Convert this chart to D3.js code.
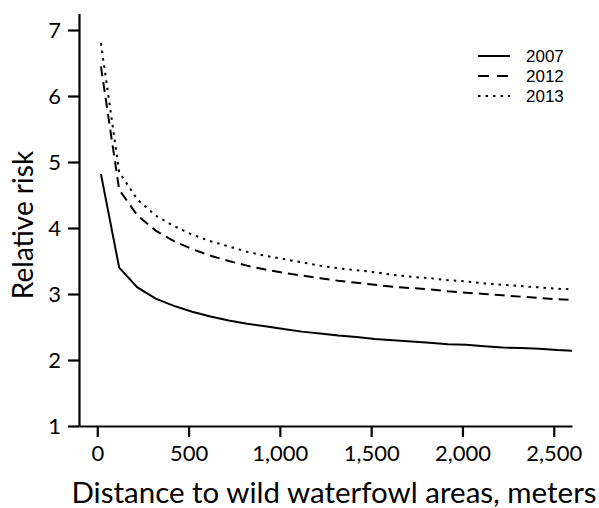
<!DOCTYPE html>
<html>
<head>
<meta charset="utf-8">
<script src="https://cdn.jsdelivr.net/npm/d3@7"></script>
<style>
  html, body { margin: 0; padding: 0; background: #fff; }
  svg { display: block; }
</style>
</head>
<body>
<svg id="chart" width="599" height="508"></svg>
<script>
// ---- data ----
const distances = [20, 120, 220, 320, 420, 520, 620, 720, 820, 920, 1020, 1120, 1220, 1320,
                   1420, 1520, 1620, 1720, 1820, 1920, 2020, 2120, 2220, 2320, 2420, 2520, 2600];
const risk2007 = [4.82, 3.40, 3.10, 2.93, 2.82, 2.73, 2.66, 2.60, 2.55, 2.51, 2.47, 2.43, 2.40, 2.37,
                  2.35, 2.32, 2.30, 2.28, 2.26, 2.24, 2.23, 2.21, 2.19, 2.18, 2.17, 2.15, 2.14];
const risk2012 = [6.45, 4.58, 4.19, 3.96, 3.80, 3.68, 3.58, 3.50, 3.43, 3.37, 3.32, 3.28, 3.24, 3.20,
                  3.17, 3.14, 3.11, 3.09, 3.07, 3.04, 3.02, 3.00, 2.98, 2.96, 2.94, 2.92, 2.91];
const risk2013 = [6.80, 4.85, 4.43, 4.19, 4.03, 3.90, 3.80, 3.72, 3.64, 3.58, 3.53, 3.48, 3.43, 3.39,
                  3.36, 3.33, 3.29, 3.26, 3.24, 3.21, 3.19, 3.16, 3.14, 3.12, 3.10, 3.08, 3.07];
const seriesNames = ["2007", "2012", "2013"];
const xTicks = [0, 500, 1000, 1500, 2000, 2500];
const yTicks = [1, 2, 3, 4, 5, 6, 7];
const xTitle = "Distance to wild waterfowl areas, meters";
const yTitle = "Relative risk";

// ---- layout ----
const svg = d3.select("#chart");
const x = d3.scaleLinear().domain([-100, 2600]).range([79, 572]);
const y = d3.scaleLinear().domain([1, 7.25]).range([426, 13.5]);
const tickFont = "Lato, 'Open Sans', sans-serif";

const series = [
  { name: seriesNames[0], values: risk2007, dash: null },
  { name: seriesNames[1], values: risk2012, dash: "10,6" },
  { name: seriesNames[2], values: risk2013, dash: "2.5,5" }
];

// axes
const xAxis = d3.axisBottom(x).tickValues(xTicks).tickSize(11).tickPadding(8)
  .tickSizeOuter(0).tickFormat(d3.format(","));
const gx = svg.append("g").attr("transform", `translate(0,${y(1)})`).call(xAxis);
const yAxis = d3.axisLeft(y).tickValues(yTicks).tickSize(11).tickPadding(7)
  .tickSizeOuter(0).tickFormat(d3.format("d"));
const gy = svg.append("g").attr("transform", `translate(${x(-100)},0)`).call(yAxis);

[gx, gy].forEach(g => {
  g.selectAll(".domain").attr("stroke", "#000").attr("stroke-width", 2.2);
  g.selectAll(".tick line").attr("stroke", "#000").attr("stroke-width", 2.2);
  g.selectAll(".tick text").attr("fill", "#000")
    .style("font-family", tickFont).style("font-size", "22px");
});

// axis titles
svg.append("text")
  .attr("x", 334).attr("y", 503)
  .attr("text-anchor", "middle")
  .style("font-family", tickFont).style("font-size", "29.5px")
  .attr("fill", "#000")
  .text(xTitle);
svg.append("text")
  .attr("transform", `translate(33,225) rotate(-90)`)
  .attr("text-anchor", "middle")
  .style("font-family", tickFont).style("font-size", "28px")
  .attr("fill", "#000")
  .text(yTitle);

// lines
const line = d3.line().x((d, i) => x(distances[i])).y(d => y(d));
series.forEach(s => {
  svg.append("path")
    .datum(s.values)
    .attr("d", line)
    .attr("fill", "none")
    .attr("stroke", "#000")
    .attr("stroke-width", 2)
    .attr("stroke-dasharray", s.dash);
});

// legend
const legend = svg.append("g").attr("transform", "translate(478,56)");
series.forEach((s, i) => {
  const g = legend.append("g").attr("transform", `translate(0,${i * 20})`);
  g.append("line")
    .attr("x1", 0).attr("x2", 32).attr("y1", 0).attr("y2", 0)
    .attr("stroke", "#000").attr("stroke-width", 2)
    .attr("stroke-dasharray", s.dash ? (i === 1 ? "11,8" : "2.5,5") : null);
  g.append("text")
    .attr("x", 48).attr("y", 0).attr("dy", "0.36em")
    .style("font-family", "'Liberation Sans', Arial, sans-serif")
    .style("font-size", "17px")
    .attr("fill", "#000")
    .text(s.name);
});
</script>
</body>
</html>
